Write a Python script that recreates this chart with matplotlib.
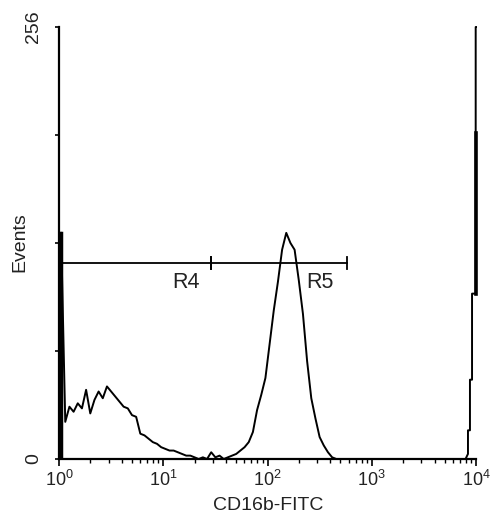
import numpy as np
import matplotlib.pyplot as plt
from matplotlib.ticker import FixedLocator, NullFormatter

plt.rcParams['font.family'] = ['Liberation Sans', 'DejaVu Sans']
plt.rcParams['mathtext.fontset'] = 'custom'
plt.rcParams['mathtext.rm'] = 'Liberation Sans'
plt.rcParams['mathtext.it'] = 'Liberation Sans:italic'

# events per 0.04-decade channel, first channel centred at 10^0.02
counts = [134, 22, 31, 28, 33, 30, 41, 27, 35, 40,
          36, 43, 40, 37, 34, 31, 30, 26, 25, 15,
          14, 12, 10, 9, 7, 6, 5, 5, 4, 3,
          2, 2, 1, 0, 1, 0, 4, 1, 2, 0,
          1, 2, 3, 5, 7, 10, 16, 29, 38, 48,
          68, 88, 105, 124, 134, 128, 124, 106, 86, 58,
          36, 24, 13, 8, 4, 1, 0, 0, 0, 0,
          0, 0, 0, 0, 0, 0, 0, 0, 0, 0,
          0, 0, 0, 0, 0, 0, 0, 0, 0, 0,
          0, 0, 0, 0, 0, 0, 0, 0]
# off-scale pile-up at the top channels
tail_log = [3.915, 3.923, 3.923, 3.942, 3.942, 3.962, 3.962, 3.997, 3.997, 4.0]
tail_counts = [2, 3, 17, 17, 47, 47, 98, 98, 256, 256]
pileup_dense = (98, 193)

gate_r4 = (10 ** 0.025, 28.7)
gate_r5 = (28.7, 580)
gate_level = 116

log_fl = list(0.02 + 0.04 * np.arange(len(counts))) + tail_log
fl = 10 ** np.array(log_fl)
ev = np.array(counts + tail_counts)

fig = plt.figure(figsize=(5.02, 5.18), dpi=100)
ax = fig.add_axes([59 / 502, 1 - 459 / 518, 417 / 502, 432 / 518])

ax.plot([fl[0], fl[0]], [0, ev[0]], color='black', lw=2.5)
ax.plot(fl, ev, color='black', lw=1.4, clip_on=False)
ax.plot([fl[-1], fl[-1]], pileup_dense, color='black', lw=2.6, clip_on=False)

# gates
for lo, hi in [gate_r4, gate_r5]:
    ax.plot([lo, hi], [gate_level, gate_level], color='black', lw=1.3)
    for xx in (lo, hi):
        ax.plot([xx, xx], [gate_level - 3.5, gate_level + 3.5], color='black', lw=1.3)
ax.text(10 ** 1.22, gate_level - 5, 'R4', ha='center', va='top', fontsize=15.5, color='#222222')
ax.text(10 ** 2.5, gate_level - 5, 'R5', ha='center', va='top', fontsize=15.5, color='#222222')

ax.set_xscale('log')
ax.set_xlim(1, 1e4)
ax.set_ylim(0, 256)

for side in ['top', 'right']:
    ax.spines[side].set_visible(False)
for side in ['left', 'bottom']:
    ax.spines[side].set_linewidth(1.6)

ax.set_xticks([1, 10, 100, 1000, 10000])
ax.set_xticklabels(['10$^0$', '10$^1$', '10$^2$', '10$^3$', '10$^4$'], fontsize=13, color='#222222')
minors = [m * 10 ** d for d in range(4) for m in range(2, 10)]
ax.xaxis.set_minor_locator(FixedLocator(minors))
ax.xaxis.set_minor_formatter(NullFormatter())
ax.tick_params(axis='x', which='major', length=5, width=1.2, pad=3, direction='out')
ax.tick_params(axis='x', which='minor', length=3, width=1, direction='out')

ax.set_yticks([0, 256])
ax.set_yticklabels(['0', '256'], rotation=90, va='center', fontsize=14, color='#222222')
ax.yaxis.set_minor_locator(FixedLocator([64, 128, 192]))
ax.tick_params(axis='y', which='major', length=3, width=1.2, pad=9)
ax.tick_params(axis='y', which='minor', length=3, width=1.2)

fig.text(20 / 502, 1 - 242 / 518, 'Events', rotation=90, ha='center', va='center',
         fontsize=14, color='#222222')
fig.text(268 / 502, 1 - 505 / 518, 'CD16b-FITC', ha='center', va='center',
         fontsize=14, color='#222222')

fig.savefig('out.png', dpi=100)
